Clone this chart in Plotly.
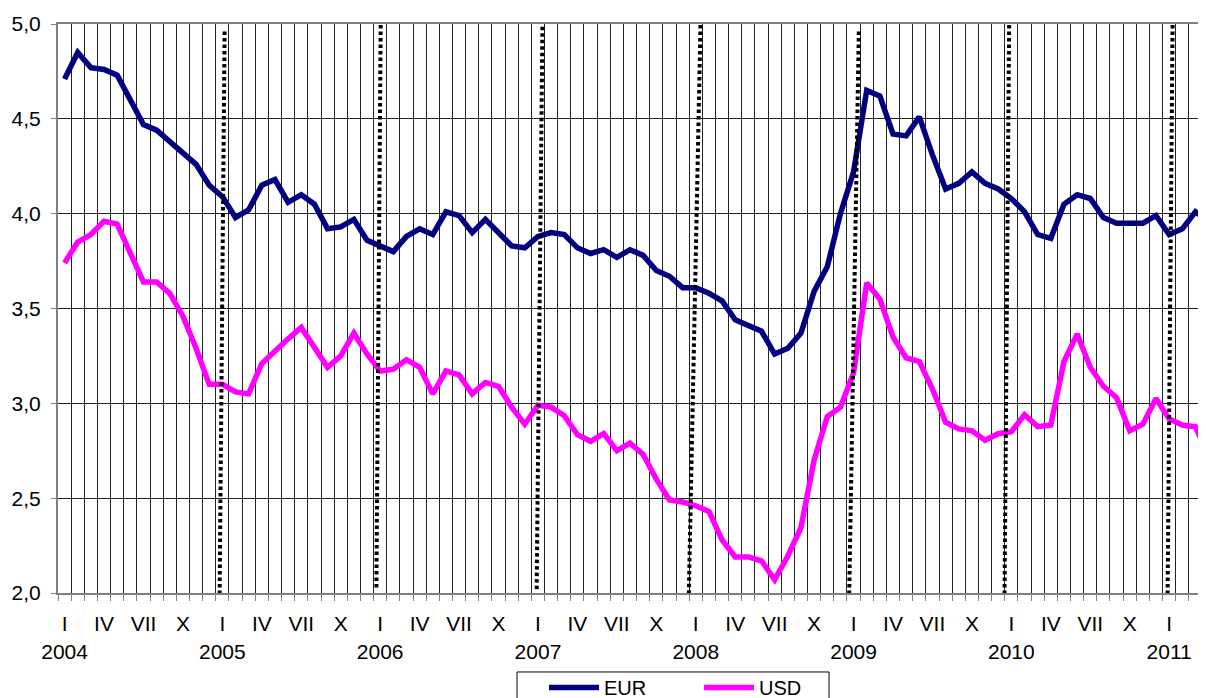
import plotly.graph_objects as go

# ---- data -------------------------------------------------------------
YEARS = ["2004", "2005", "2006", "2007", "2008", "2009", "2010", "2011"]
MONTH_LABELS = ["I", "IV", "VII", "X"]          # shown every 3rd month

EUR = [4.71, 4.85, 4.77, 4.76, 4.73, 4.60, 4.47, 4.44, 4.38, 4.32, 4.26, 4.15,
       4.09, 3.98, 4.02, 4.15, 4.18, 4.06, 4.10, 4.05, 3.92, 3.93, 3.97, 3.86,
       3.83, 3.80, 3.88, 3.92, 3.89, 4.01, 3.99, 3.90, 3.97, 3.90, 3.83, 3.82,
       3.88, 3.90, 3.89, 3.82, 3.79, 3.81, 3.77, 3.81, 3.78, 3.70, 3.67, 3.61,
       3.61, 3.58, 3.54, 3.44, 3.41, 3.38, 3.26, 3.29, 3.37, 3.59, 3.72, 4.00,
       4.22, 4.65, 4.62, 4.42, 4.41, 4.51, 4.31, 4.13, 4.16, 4.22, 4.16, 4.13,
       4.08, 4.01, 3.89, 3.87, 4.05, 4.10, 4.08, 3.98, 3.95, 3.95, 3.95, 3.99,
       3.89, 3.92, 4.01, 3.96]

USD = [3.74, 3.85, 3.89, 3.96, 3.945, 3.79, 3.64, 3.64, 3.58, 3.46, 3.29, 3.10,
       3.10, 3.06, 3.05, 3.21, 3.28, 3.34, 3.40, 3.30, 3.19, 3.25, 3.37, 3.26,
       3.17, 3.18, 3.23, 3.19, 3.05, 3.17, 3.15, 3.05, 3.11, 3.09, 2.98, 2.89,
       2.99, 2.98, 2.935, 2.835, 2.80, 2.84, 2.75, 2.79, 2.73, 2.60, 2.49, 2.48,
       2.46, 2.43, 2.28, 2.19, 2.19, 2.17, 2.07, 2.195, 2.345, 2.70, 2.93, 2.98,
       3.16, 3.635, 3.55, 3.35, 3.24, 3.22, 3.075, 2.90, 2.865, 2.855, 2.805, 2.84,
       2.85, 2.94, 2.877, 2.886, 3.22, 3.365, 3.19, 3.09, 3.03, 2.856, 2.89, 3.026,
       2.918, 2.886, 2.877, 2.72]

# hand-drawn dotted year dividers (month-index position at top / bottom, value at top / bottom)
DIV_X_TOP = [12.17, 24.04, 36.34, 48.36, 60.40, 71.83, 84.26]
DIV_X_BOT = [11.79, 23.71, 35.90, 47.47, 59.66, 71.48, 83.88]
DIV_Y_TOP = [4.96, 4.995, 4.986, 4.995, 4.96, 4.995, 4.995]
DIV_Y_BOT = [2.00, 2.028, 2.01, 1.99, 1.956, 1.992, 1.983]

# ---- derived ----------------------------------------------------------
N = len(EUR)
months = list(range(N))
label_idx = [i for i in months if i % 3 == 0]
label_txt = [MONTH_LABELS[(i % 12) // 3] for i in label_idx]
year_idx = [i for i in months if i % 12 == 0]
year_txt = [YEARS[i // 12] for i in year_idx]

FONT = "Liberation Sans, Arial, sans-serif"

fig = go.Figure()
fig.add_trace(go.Scatter(x=months, y=EUR, name="EUR", mode="lines",
                         line=dict(color="#000080", width=5.5)))
fig.add_trace(go.Scatter(x=months, y=USD, name="USD", mode="lines",
                         line=dict(color="#FF00FF", width=5.5)))
# invisible helpers so the label axes exist
fig.add_trace(go.Scatter(x=[0], y=[None], xaxis="x2", showlegend=False, hoverinfo="skip"))
fig.add_trace(go.Scatter(x=[0], y=[None], xaxis="x3", showlegend=False, hoverinfo="skip"))

for xt, xb, yt, yb in zip(DIV_X_TOP, DIV_X_BOT, DIV_Y_TOP, DIV_Y_BOT):
    fig.add_shape(type="line", xref="x", yref="y", x0=xt, y0=yt, x1=xb, y1=yb,
                  line=dict(color="black", width=4, dash="3.5px,3px"), layer="above")

# plot area is 1156 px wide; the page crops its right end, as in the reference
PW = 1156.0
def px(p):  # page x (from plot left) -> paper fraction
    return p / PW

# legend frame (partly below the visible page, as in the reference)
fig.add_shape(type="rect", xref="paper", yref="paper",
              x0=px(517 - 58), x1=px(829 - 58), y0=-0.1388, y1=-0.40,
              line=dict(color="black", width=1), fillcolor="white", layer="below")

xrange = [-0.5, 87.41]
fig.update_layout(
    width=1206, height=690,
    margin=dict(l=50, r=0, t=16, b=105, autoexpand=False),
    paper_bgcolor="white", plot_bgcolor="white",
    separators=", ",
    font=dict(family=FONT, size=20, color="black"),
    showlegend=True,
    legend=dict(orientation="h", x=px(544 - 58), xanchor="left", y=-0.1318, yanchor="top",
                borderwidth=0, bgcolor="rgba(0,0,0,0)",
                font=dict(size=20), itemwidth=50, entrywidth=90, entrywidthmode="pixels"),
    xaxis=dict(range=xrange, tickmode="array", automargin=False,
               tickvals=[i - 0.5 for i in range(N + 1)], ticktext=[""] * (N + 1),
               showgrid=True, gridcolor="#222222", gridwidth=1,
               ticks="outside", ticklen=6, tickcolor="#808080", tickwidth=1,
               showline=True, linecolor="#808080", linewidth=2, mirror=True,
               zeroline=False, fixedrange=True),
    xaxis2=dict(overlaying="x", matches="x", anchor="y", side="bottom", automargin=False,
                tickmode="array", tickvals=label_idx, ticktext=label_txt,
                showgrid=False, ticks="", showline=False, zeroline=False,
                tickfont=dict(size=21), ticklabelstandoff=16),
    xaxis3=dict(overlaying="x", matches="x", anchor="y", side="bottom", automargin=False,
                tickmode="array", tickvals=year_idx, ticktext=year_txt,
                showgrid=False, ticks="", showline=False, zeroline=False,
                tickfont=dict(size=21), ticklabelstandoff=44),
    yaxis=dict(range=[2, 5], dtick=0.5, tick0=2, tickformat=".1f", automargin=False,
               showgrid=True, gridcolor="#222222", gridwidth=1,
               ticks="outside", ticklen=5, tickcolor="#808080",
               showline=True, linecolor="#808080", linewidth=2,
               zeroline=False, tickfont=dict(size=21), ticklabelstandoff=6),
)

fig.write_html("out.html")
